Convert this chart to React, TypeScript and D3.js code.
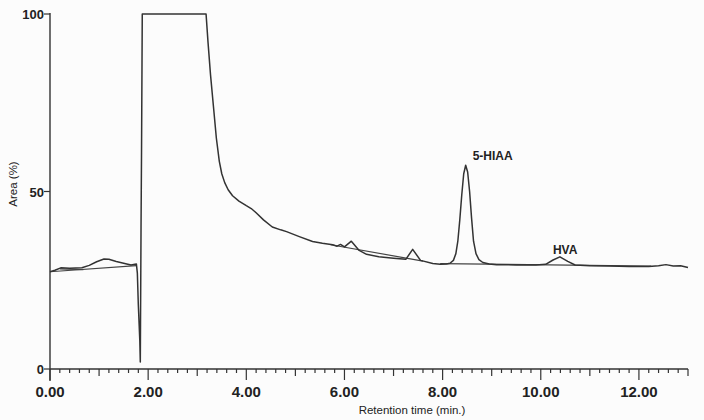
import React from 'react';
import * as d3 from 'd3';

// chromatogram trace: [retention time (min), area (%)]
const trace: [number, number][] = [
  [0.0, 27.4], [0.1, 27.8], [0.22, 28.5], [0.4, 28.4], [0.65, 28.5], [0.8, 29.2],
  [0.95, 30.2], [1.1, 31.0], [1.2, 30.9], [1.35, 30.3], [1.5, 29.8], [1.65, 29.3],
  [1.76, 29.6], [1.78, 27.0], [1.8, 18.0], [1.83, 8.0], [1.84, 2.0], [1.855, 40],
  [1.865, 61], [1.88, 100], [3.18, 100], [3.22, 92], [3.27, 83], [3.33, 74],
  [3.39, 65], [3.45, 58.5], [3.5, 55.0], [3.56, 52.5], [3.63, 50.5], [3.72, 48.8],
  [3.85, 47.3], [4.0, 46.0], [4.1, 45.2], [4.2, 44.0], [4.35, 42.0], [4.53, 40.0],
  [4.7, 39.2], [4.82, 38.7], [5.08, 37.3], [5.35, 35.9], [5.55, 35.4], [5.76, 35.0],
  [5.85, 34.6], [5.92, 35.1], [6.0, 34.4], [6.14, 36.0], [6.3, 33.4], [6.45, 32.3],
  [6.7, 31.6], [7.0, 31.2], [7.25, 30.9], [7.39, 33.7], [7.55, 30.6], [7.8, 29.7],
  [7.95, 29.5], [8.08, 29.6], [8.15, 29.8], [8.22, 30.6], [8.27, 32.5], [8.31, 36.0],
  [8.35, 42.0], [8.39, 49.0], [8.43, 55.0], [8.47, 57.4], [8.51, 55.5], [8.55, 50.0],
  [8.59, 42.5], [8.63, 36.0], [8.68, 32.5], [8.74, 30.8], [8.82, 30.0], [8.95, 29.6],
  [9.1, 29.4], [9.5, 29.3], [9.9, 29.3], [10.1, 29.5], [10.25, 30.7], [10.39, 31.6],
  [10.55, 30.3], [10.7, 29.3], [11.0, 29.1], [11.4, 29.0], [11.8, 28.9], [12.2, 28.9],
  [12.4, 29.1], [12.55, 29.4], [12.7, 29.0], [12.85, 29.1], [13.0, 28.6],
];

// integration baselines drawn under the peaks
const baselines: [number, number][][] = [
  [[0.0, 27.4], [1.76, 29.1]],
  [[0.2, 28.2], [0.68, 28.0]],
  [[5.72, 35.0], [7.6, 30.4]],
  [[7.95, 29.7], [12.25, 29.0]],
];

const peakLabels = [
  { name: '5-HIAA', t: 8.47, v: 57.4 },
  { name: 'HVA', t: 10.39, v: 31.6 },
];

const xMajor = [0, 2, 4, 6, 8, 10, 12];
const xTickLabels = ['0.00', '2.00', '4.00', '6.00', '8.00', '10.00', '12.00'];
const yTicks = [0, 50, 100];
const yTickLabels = ['0', '50', '100'];

const W = 704;
const H = 420;
const ink = '#333';
const font = '"Liberation Sans", Arial, sans-serif';

export default function App() {
  const x = d3.scaleLinear().domain([0, 13]).range([50, 688]);
  const y = d3.scaleLinear().domain([0, 100]).range([369, 14]);
  const line = d3.line<[number, number]>().x(d => x(d[0])).y(d => y(d[1]));

  const minor = d3.range(0, 13.001, 0.2);

  return (
    <svg width={W} height={H} style={{ position: 'absolute', left: 0, top: 0, background: '#fcfcfc' }}>
      {/* axes */}
      <line x1={x(0)} x2={x(0)} y1={y(100) - 1} y2={y(0) + 12} stroke={ink} strokeWidth={1.4} />
      <line x1={x(0)} x2={x(13)} y1={y(0)} y2={y(0)} stroke={ink} strokeWidth={1.4} />
      {minor.map((t, i) => {
        const r = Math.round(t * 10) / 10;
        const len = r % 2 === 0 ? 11 : Number.isInteger(r) ? 7 : 4;
        return <line key={i} x1={x(t)} x2={x(t)} y1={y(0)} y2={y(0) + len} stroke={ink} strokeWidth={1.2} />;
      })}
      {xMajor.map((t, i) => (
        <text key={i} x={x(t)} y={397} textAnchor="middle" fontFamily={font} fontWeight="bold" fontSize={15} fill="#222">
          {xTickLabels[i]}
        </text>
      ))}
      {yTicks.map((v, i) => (
        <g key={i}>
          <line x1={x(0) - 6} x2={x(0)} y1={y(v)} y2={y(v)} stroke={ink} strokeWidth={1.2} />
          <text x={x(0) - 6} y={y(v) + 5} textAnchor="end" fontFamily={font} fontWeight="bold" fontSize={13} fill="#222">
            {yTickLabels[i]}
          </text>
        </g>
      ))}
      <text x={412} y={414} textAnchor="middle" fontFamily={font} fontSize={11.5} fill="#222">
        Retention time (min.)
      </text>
      <text transform={`translate(17,184) rotate(-90)`} textAnchor="middle" fontFamily={font} fontSize={11.5} fill="#222">
        Area (%)
      </text>

      {/* baselines and trace */}
      {baselines.map((b, i) => (
        <path key={i} d={line(b) ?? ''} fill="none" stroke="#444" strokeWidth={1.2} />
      ))}
      <path d={line(trace) ?? ''} fill="none" stroke="#333" strokeWidth={1.5} strokeLinejoin="round" />

      {peakLabels.map((p, i) => (
        <text key={i} x={x(p.t) + (i === 0 ? 7 : -7)} y={y(p.v) - (i === 0 ? 5 : 3)} textAnchor="start"
          fontFamily={font} fontWeight="bold" fontSize={12} fill="#222">
          {p.name}
        </text>
      ))}
    </svg>
  );
}
